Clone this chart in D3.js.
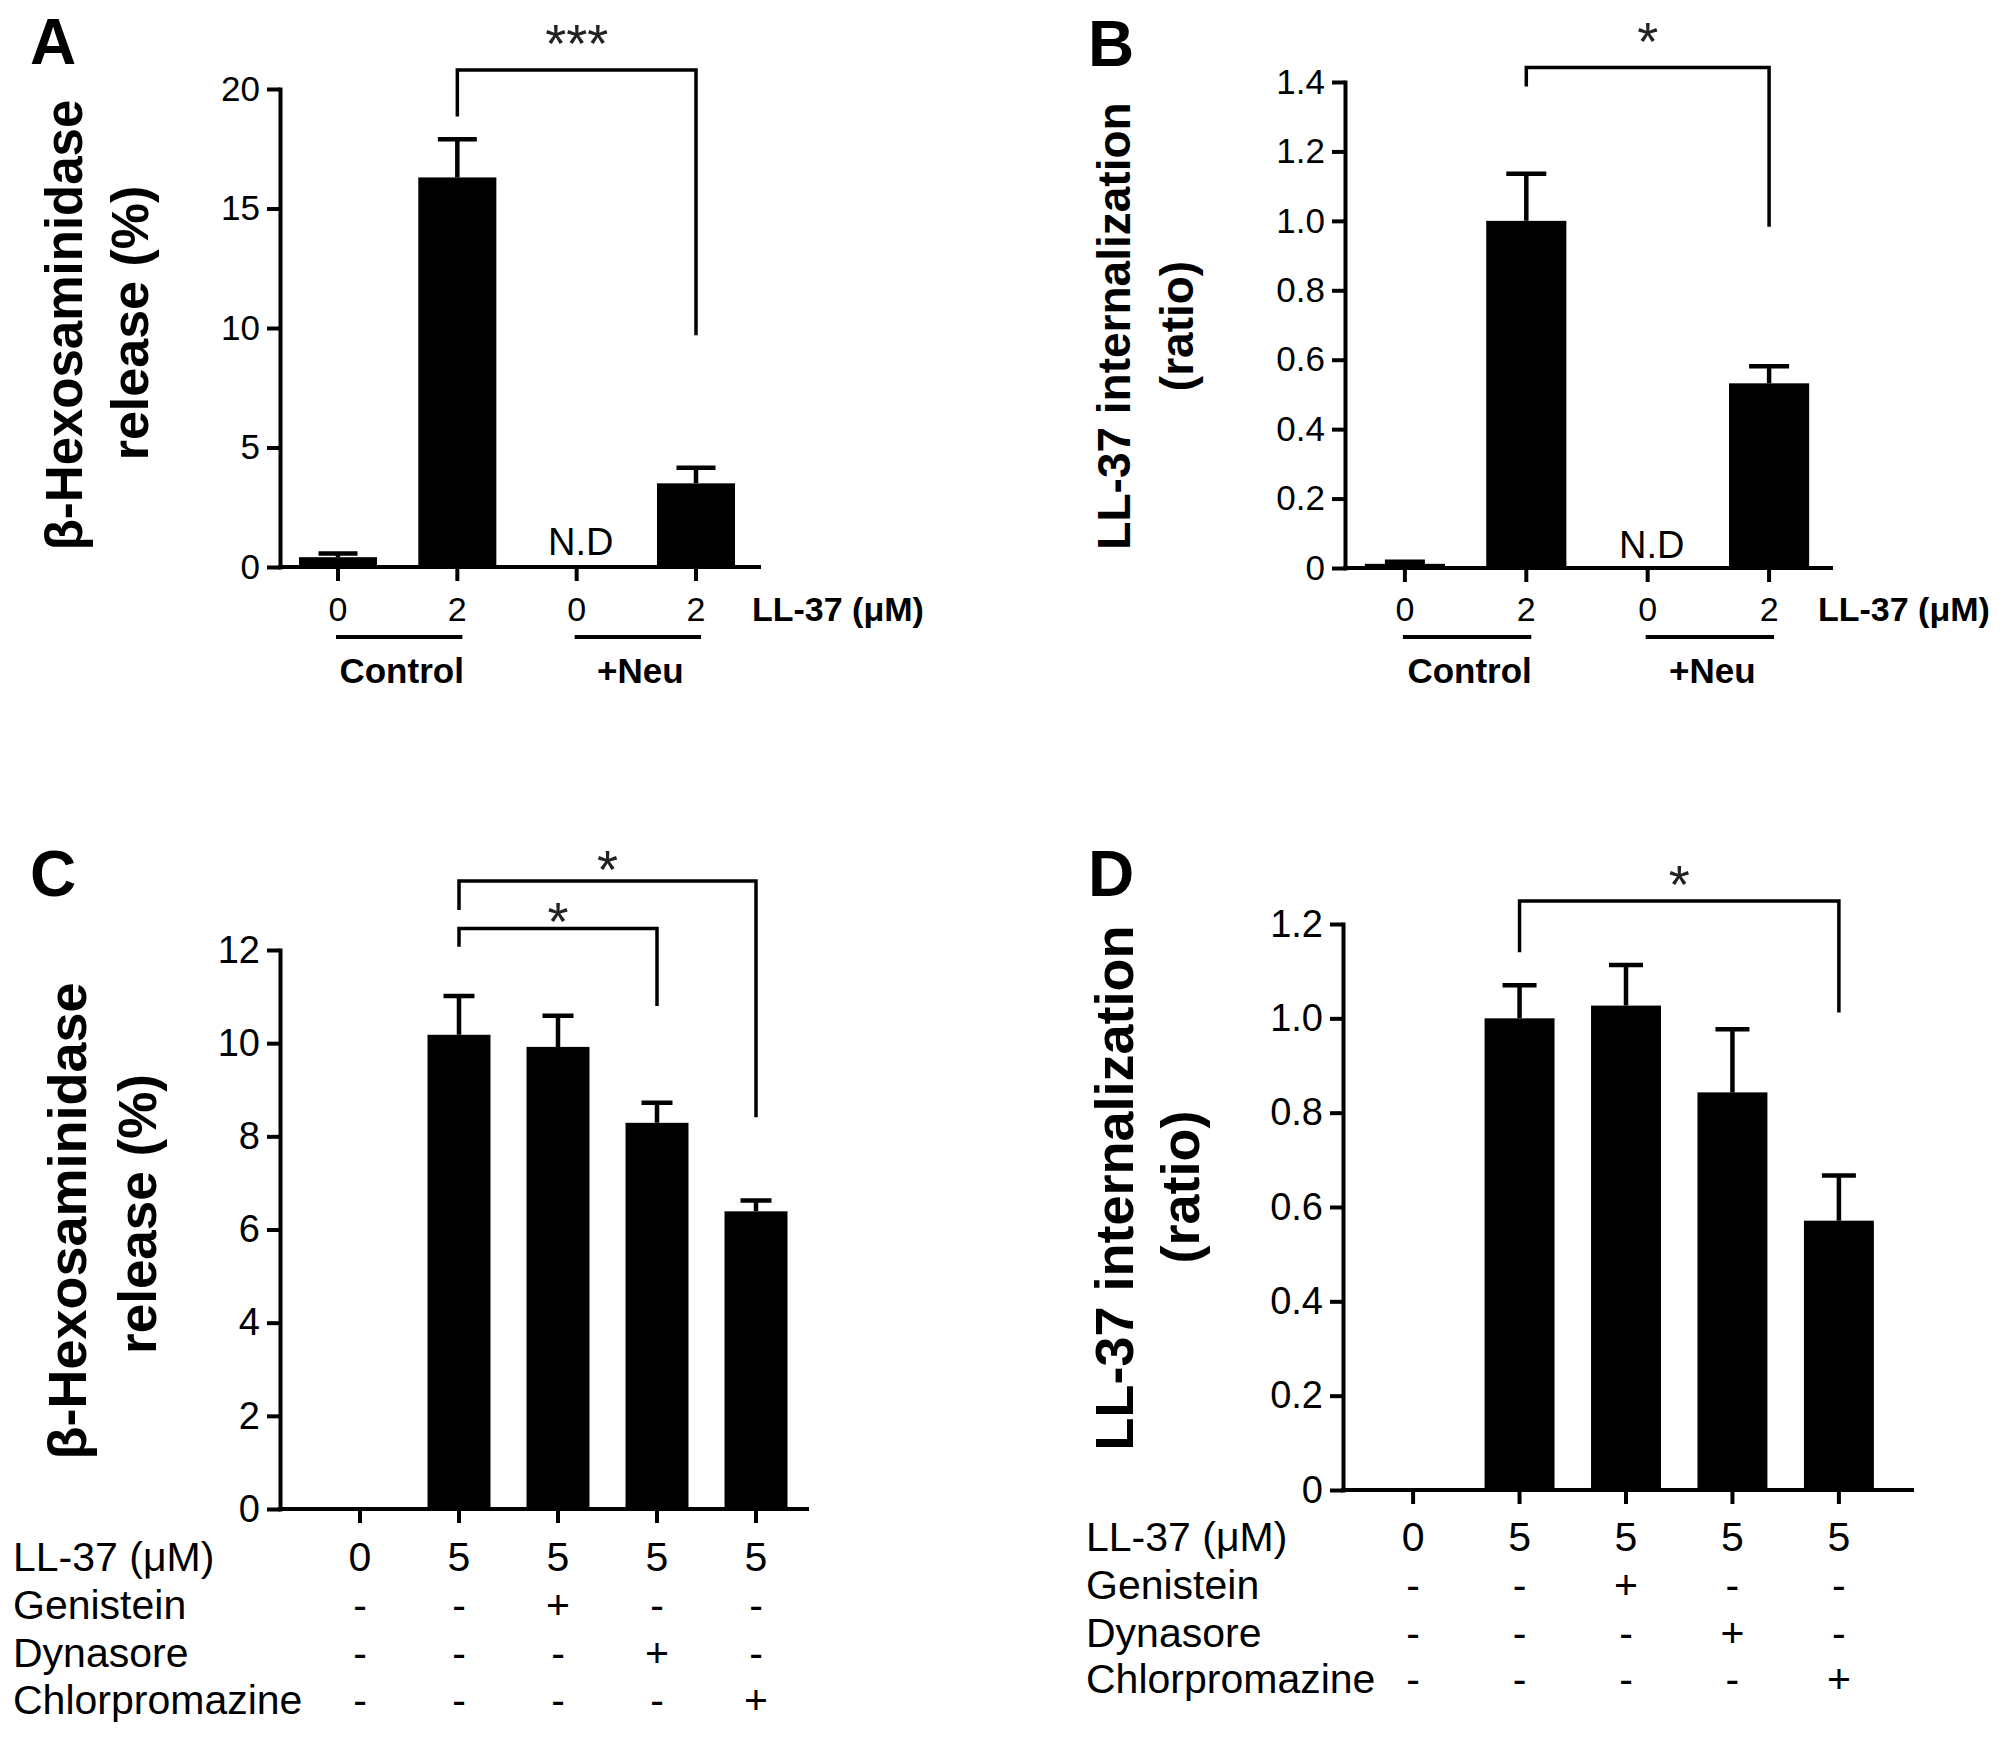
<!DOCTYPE html>
<html><head><meta charset="utf-8">
<script src="https://cdn.jsdelivr.net/npm/d3@7"></script>
<style>
body{margin:0;background:#fff;}
svg{display:block;font-family:"Liberation Sans",Arial,sans-serif;}
</style></head>
<body>
<svg id="chart" width="2008" height="1738"></svg>
<script>
// ---------------- data ----------------
const panelALabels = ["0","2","0","2"];
const panelAMeans  = [0.41, 16.3, null, 3.5];
const panelAErrors = [0.15, 1.6, null, 0.65];
const panelATicks  = [0,5,10,15,20];
const panelAGroups = ["Control","+Neu"];

const panelBLabels = ["0","2","0","2"];
const panelBMeans  = [0.012, 1.0, null, 0.532];
const panelBErrors = [0.006, 0.136, null, 0.049];
const panelBTicks  = [0,0.2,0.4,0.6,0.8,1.0,1.2,1.4];
const panelBGroups = ["Control","+Neu"];

const panelCMeans  = [0, 10.18, 9.92, 8.29, 6.39];
const panelCErrors = [0, 0.83, 0.67, 0.43, 0.23];
const panelCTicks  = [0,2,4,6,8,10,12];

const panelDMeans  = [0, 1.0, 1.027, 0.843, 0.571];
const panelDErrors = [0, 0.07, 0.086, 0.134, 0.096];
const panelDTicks  = [0,0.2,0.4,0.6,0.8,1.0,1.2];

const treatRowNames = ["LL-37 (\u03BCM)","Genistein","Dynasore","Chlorpromazine"];
const treatLL37     = ["0","5","5","5","5"];
const treatGenistein= ["-","-","+","-","-"];
const treatDynasore = ["-","-","-","+","-"];
const treatChlorpro = ["-","-","-","-","+"];

// significance brackets: [from bar, to bar, top, left-leg end, right-leg end, star y, label]
const sigA = [[1,3,20.8,18.85,9.7,22.4,"***"]];
const sigB = [[1,3,1.442,1.387,0.983,1.553,"*"]];
const sigC = [[1,4,13.48,12.86,8.41,14.0,"*"],[1,3,12.46,12.07,10.8,12.88,"*"]];
const sigD = [[1,4,1.249,1.14,1.0125,1.31,"*"]];

// ---------------- drawing ----------------
const svg = d3.select("#chart");

function panel(cfg){
  const g = svg.append("g");
  const n = cfg.means.length;
  const x = d3.scaleBand().domain(d3.range(n)).range(cfg.band)
      .paddingInner(cfg.pi).paddingOuter(cfg.po);
  const y = d3.scaleLinear().domain(cfg.ydom).range(cfg.yrange);
  const cx = i => x(i) + x.bandwidth()/2;

  // bars
  g.selectAll("rect.bar").data(cfg.means.map((v,i)=>({v,i})).filter(d=>d.v))
    .join("rect").attr("class","bar")
    .attr("x",d=>x(d.i)).attr("width",x.bandwidth())
    .attr("y",d=>y(d.v)).attr("height",d=>y(0)-y(d.v))
    .attr("fill","#000");

  // error bars
  const eb = cfg.means.map((v,i)=>({v,e:cfg.errors[i],i})).filter(d=>d.v && d.e);
  g.selectAll("path.err").data(eb).join("path").attr("class","err")
    .attr("d",d=>`M${cx(d.i)},${y(d.v)}V${y(d.v+d.e)}M${cx(d.i)-cfg.cap/2},${y(d.v+d.e)}H${cx(d.i)+cfg.cap/2}`)
    .attr("stroke","#000").attr("stroke-width",4.5).attr("fill","none");

  // y axis
  const ya = g.append("g").attr("transform",`translate(${cfg.axisX},0)`)
    .call(d3.axisLeft(y).tickValues(cfg.yticks).tickSize(13).tickSizeOuter(0).tickPadding(7)
      .tickFormat(cfg.yfmt));
  ya.select(".domain").attr("stroke-width",4).attr("stroke-linecap","square");
  ya.selectAll(".tick line").attr("stroke-width",4);
  ya.selectAll(".tick text").attr("font-size",cfg.tickFont).attr("fill","#000");

  // x axis
  const xa = g.append("g").attr("transform",`translate(0,${y(0)})`)
    .call(d3.axisBottom(x).tickSize(14).tickSizeOuter(0).tickFormat(""));
  xa.select(".domain").remove();
  xa.selectAll(".tick line").attr("stroke-width",4);
  g.append("path").attr("d",`M${cfg.axisX},${y(0)}H${cfg.axisEnd}`)
    .attr("stroke","#000").attr("stroke-width",4).attr("stroke-linecap","square");

  // significance brackets
  cfg.sig.forEach(s=>{
    const [a,b,top,l,r,sy,lab] = s;
    g.append("path")
      .attr("d",`M${cx(a)},${y(l)}V${y(top)}H${cx(b)}V${y(r)}`)
      .attr("stroke","#000").attr("stroke-width",3.5).attr("fill","none");
    g.append("text").attr("x",(cx(a)+cx(b))/2).attr("y",y(sy)+cfg.starFont*0.57)
      .attr("text-anchor","middle").attr("font-size",cfg.starFont).attr("fill","#222")
      .text(lab);
  });

  // y title
  cfg.ytitle.forEach(t=>{
    g.append("text").attr("transform",`translate(${t.x},${t.y}) rotate(-90)`)
      .attr("text-anchor","middle").attr("dominant-baseline","central")
      .attr("font-weight","bold").attr("font-size",t.size).text(t.text);
  });

  // panel letter
  g.append("text").attr("x",cfg.letter.x).attr("y",cfg.letter.y)
    .attr("font-weight","bold").attr("font-size",64).text(cfg.letter.text);

  return {g,x,y,cx};
}

function abLabels(p,labels,groups,opts){
  const {g,cx,y} = p;
  g.selectAll("text.xl").data(labels).join("text").attr("class","xl")
    .attr("x",(d,i)=>cx(i)).attr("y",opts.labY).attr("text-anchor","middle")
    .attr("dominant-baseline","central").attr("font-size",opts.font).text(d=>d);
  g.append("text").attr("x",opts.unitX).attr("y",opts.labY).attr("dominant-baseline","central")
    .attr("font-weight","bold").attr("font-size",opts.font).text("LL-37 (\u03BCM)");
  groups.forEach((name,k)=>{
    const a = cx(2*k), b = cx(2*k+1);
    g.append("path").attr("d",`M${a-2},${opts.lineY}H${b+5}`)
      .attr("stroke","#000").attr("stroke-width",4);
    g.append("text").attr("x",(a+b)/2+4).attr("y",opts.grpY).attr("text-anchor","middle")
      .attr("dominant-baseline","central").attr("font-weight","bold").attr("font-size",opts.font+1)
      .text(name);
  });
  g.append("text").attr("x",cx(2)+4).attr("y",y(opts.ndY)).attr("text-anchor","middle")
    .attr("font-size",opts.ndFont).text("N.D");
}

function table(p,opts){
  const {g,cx} = p;
  const rows = [treatLL37,treatGenistein,treatDynasore,treatChlorpro];
  rows.forEach((row,r)=>{
    const yy = opts.rowY[r];
    g.append("text").attr("x",opts.labelX).attr("y",yy).attr("dominant-baseline","central")
      .attr("font-size",opts.font).text(treatRowNames[r]);
    g.selectAll(null).data(row).join("text")
      .attr("x",(d,i)=>cx(i)).attr("y",yy).attr("text-anchor","middle")
      .attr("dominant-baseline","central").attr("font-size",opts.font).text(d=>d);
  });
}

const fmt1 = d => d===0 ? "0" : d3.format(".1f")(d);

const pA = panel({means:panelAMeans,errors:panelAErrors,band:[277.5,756.5],pi:0.346,po:0.18,
  ydom:[0,20],yrange:[567,89],axisX:280,axisEnd:759,yticks:panelATicks,yfmt:d3.format("d"),
  tickFont:35,cap:39,sig:sigA,starFont:54,
  ytitle:[{x:64,y:325,size:51,text:"\u03B2-Hexosaminidase"},{x:130,y:323,size:52,text:"release (%)"}],
  letter:{x:30,y:64,text:"A"}});
abLabels(pA,panelALabels,panelAGroups,{labY:609,unitX:752,lineY:637,grpY:670,font:34,ndY:0.5,ndFont:38});

const pB = panel({means:panelBMeans,errors:panelBErrors,band:[1343,1831],pi:0.34,po:0.18,
  ydom:[0,1.4],yrange:[568,82],axisX:1345,axisEnd:1831,yticks:panelBTicks,yfmt:fmt1,
  tickFont:35,cap:40,sig:sigB,starFont:54,
  ytitle:[{x:1114,y:326,size:46,text:"LL-37 internalization"},{x:1177,y:326,size:46,text:"(ratio)"}],
  letter:{x:1088,y:66,text:"B"}});
abLabels(pB,panelBLabels,panelBGroups,{labY:609,unitX:1818,lineY:637,grpY:670,font:34,ndY:0.03,ndFont:38});

const pC = panel({means:panelCMeans,errors:panelCErrors,band:[280,836],pi:0.364,po:0.49,
  ydom:[0,12],yrange:[1509,950],axisX:280,axisEnd:807,yticks:panelCTicks,yfmt:d3.format("d"),
  tickFont:38,cap:31,sig:sigC,starFont:54,
  ytitle:[{x:67,y:1221,size:54,text:"\u03B2-Hexosaminidase"},{x:137,y:1214,size:53,text:"release (%)"}],
  letter:{x:30,y:896,text:"C"}});
table(pC,{labelX:13,rowY:[1557,1605,1653,1700],font:41});

const pD = panel({means:panelDMeans,errors:panelDErrors,band:[1343,1909],pi:0.343,po:0.33,
  ydom:[0,1.2],yrange:[1490,924],axisX:1343,axisEnd:1912,yticks:panelDTicks,yfmt:fmt1,
  tickFont:38,cap:34,sig:sigD,starFont:54,
  ytitle:[{x:1114,y:1188,size:54,text:"LL-37 internalization"},{x:1180,y:1187,size:54,text:"(ratio)"}],
  letter:{x:1088,y:896,text:"D"}});
table(pD,{labelX:1086,rowY:[1537,1585,1633,1679],font:41});
</script>
</body></html>
